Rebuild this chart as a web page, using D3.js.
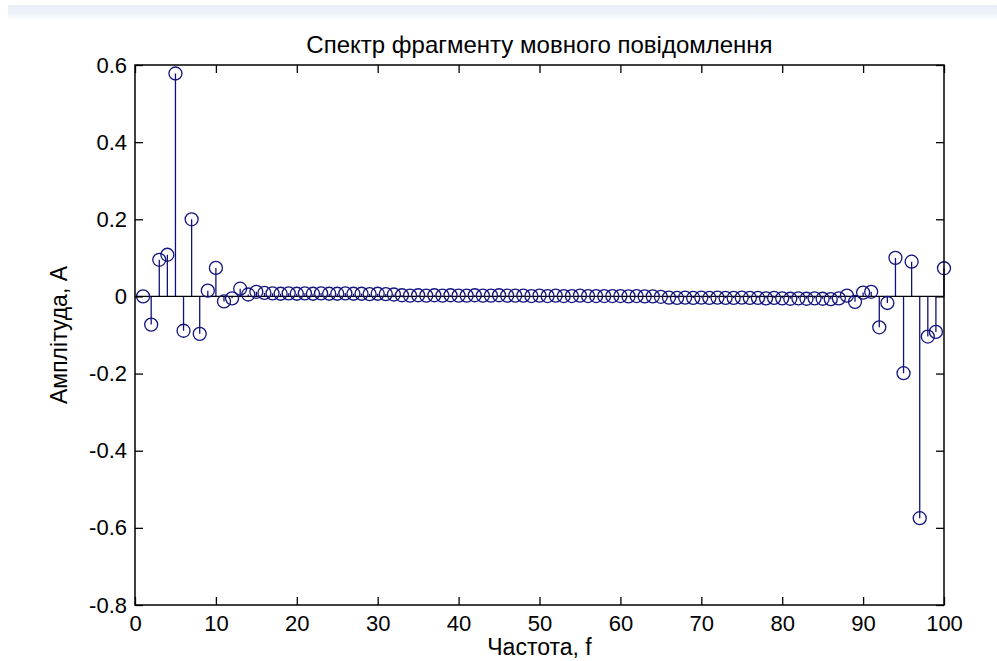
<!DOCTYPE html>
<html>
<head>
<meta charset="utf-8">
<script src="https://cdn.jsdelivr.net/npm/d3@7"></script>
<style>
  body { margin: 0; background: #fff; }
  text { font-family: "Liberation Sans", Arial, sans-serif; fill: #000; }
</style>
</head>
<body>
<div id="svg-holder"></div>
<script>
var width = 997;
var height = 661;

// frequency index 1..100
var freq = d3.range(1, 101);

// amplitude
var amp = [
   0.000, -0.073,  0.095,  0.108,  0.578, -0.089,  0.200, -0.097,  0.015,  0.074,
  -0.013, -0.005,  0.020,  0.005,  0.012,  0.009,  0.008,  0.007,  0.008,  0.007,
   0.008,  0.007,  0.008,  0.007,  0.007,  0.008,  0.007,  0.007,  0.006,  0.007,
   0.006,  0.005,  0.003,  0.002,  0.003,  0.002,  0.003,  0.002,  0.003,  0.002,
   0.002,  0.003,  0.002,  0.002,  0.003,  0.002,  0.002,  0.002,  0.001,  0.002,
   0.001,  0.002,  0.001,  0.001,  0.002,  0.001,  0.001,  0.001,  0.001,  0.001,
   0.000,  0.001,  0.000,  0.000, -0.001, -0.003, -0.004, -0.003, -0.004, -0.003,
  -0.004, -0.003, -0.004, -0.004, -0.003, -0.004, -0.004, -0.005, -0.004, -0.005,
  -0.006, -0.005, -0.006, -0.005, -0.006, -0.007, -0.005,  0.002, -0.014,  0.010,
   0.012, -0.080, -0.017,  0.100, -0.199,  0.090, -0.575, -0.104, -0.092,  0.073
];

var xTicks = [0, 10, 20, 30, 40, 50, 60, 70, 80, 90, 100];
var yTicks = [0.6, 0.4, 0.2, 0, -0.2, -0.4, -0.6, -0.8];

var title = "Спектр фрагменту мовного повідомлення";
var xLabel = "Частота, f";
var yLabel = "Амплітуда, А";

var margin = {left: 135, right: 53, top: 65, bottom: 56};
var plotW = width - margin.left - margin.right;
var plotH = height - margin.top - margin.bottom;

var svg = d3.select('#svg-holder').append('svg')
            .attr("width", width)
            .attr("height", height);

// pale band at the very top of the page
var grad = svg.append('defs').append('linearGradient')
    .attr('id', 'band').attr('x1', 0).attr('y1', 0).attr('x2', 0).attr('y2', 1);
grad.append('stop').attr('offset', '0%').attr('stop-color', '#e9eff7');
grad.append('stop').attr('offset', '55%').attr('stop-color', '#eef3f9');
grad.append('stop').attr('offset', '100%').attr('stop-color', '#ffffff');
svg.append('rect')
    .attr('x', 8).attr('y', 5)
    .attr('width', width - 8).attr('height', 16)
    .attr('fill', 'url(#band)');

var x = d3.scaleLinear().domain([0, 100]).range([0, plotW]);
var y = d3.scaleLinear().domain([-0.8, 0.6]).range([plotH, 0]);

var g = svg.append('g')
    .attr('transform', 'translate(' + margin.left + ',' + margin.top + ')');

draw();

// plain hyphen for negatives, like the original
function fmt(d) {
    return d === 0 ? "0" : d3.format(".1f")(d).replace("\u2212", "-");
}

function draw() {
    var tickLen = 8;

    // stems
    g.selectAll('line.stem')
        .data(freq)
        .enter().append('line')
        .attr('class', 'stem')
        .attr('x1', function(d) { return x(d); })
        .attr('x2', function(d) { return x(d); })
        .attr('y1', y(0))
        .attr('y2', function(d, i) { return y(amp[i]); })
        .attr('stroke', '#10107a')
        .attr('stroke-width', 1.3);

    // baseline
    g.append('line')
        .attr('x1', x(0)).attr('x2', x(100))
        .attr('y1', y(0)).attr('y2', y(0))
        .attr('stroke', '#000')
        .attr('stroke-width', 1.3);

    // markers
    g.selectAll('circle')
        .data(freq)
        .enter().append('circle')
        .attr('cx', function(d) { return x(d); })
        .attr('cy', function(d, i) { return y(amp[i]); })
        .attr('r', 6.5)
        .attr('fill', 'none')
        .attr('stroke', '#14147e')
        .attr('stroke-width', 1.3);

    // axes, ticks pointing inward on all four sides
    var bottom = d3.axisBottom(x).tickValues(xTicks).tickSize(-tickLen).tickPadding(10).tickFormat(d3.format("d"));
    var top = d3.axisTop(x).tickValues(xTicks).tickSize(-tickLen).tickFormat("");
    var left = d3.axisLeft(y).tickValues(yTicks).tickSize(-tickLen).tickPadding(8).tickFormat(fmt);
    var right = d3.axisRight(y).tickValues(yTicks).tickSize(-tickLen).tickFormat("");

    var axes = [
        g.append('g').attr('transform', 'translate(0,' + plotH + ')').call(bottom),
        g.append('g').call(top),
        g.append('g').call(left),
        g.append('g').attr('transform', 'translate(' + plotW + ',0)').call(right)
    ];
    axes.forEach(function(a) {
        a.select('.domain').remove();
        a.selectAll('line').attr('stroke', '#000').attr('stroke-width', 1.3);
        a.selectAll('text').style('font-size', '22px').attr('fill', '#000');
    });

    g.append('rect')
        .attr('x', 0).attr('y', 0)
        .attr('width', plotW).attr('height', plotH)
        .attr('fill', 'none')
        .attr('stroke', '#000')
        .attr('stroke-width', 1.5);

    svg.append('text')
        .attr('x', margin.left + plotW / 2)
        .attr('y', 53)
        .attr('text-anchor', 'middle')
        .style('font-size', '24px')
        .text(title);

    svg.append('text')
        .attr('x', margin.left + plotW / 2)
        .attr('y', 655)
        .attr('text-anchor', 'middle')
        .style('font-size', '23px')
        .text(xLabel);

    svg.append('text')
        .attr('transform', 'translate(67,' + (margin.top + plotH / 2) + ') rotate(-90)')
        .attr('text-anchor', 'middle')
        .style('font-size', '23px')
        .text(yLabel);
}
</script>
</body>
</html>
